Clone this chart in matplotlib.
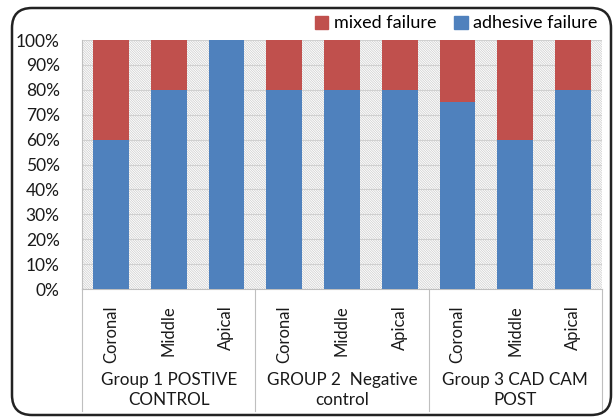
import matplotlib.pyplot as plt
import numpy as np
from matplotlib.patches import Patch, Rectangle, FancyBboxPatch
from matplotlib.lines import Line2D
import matplotlib.transforms as mtransforms

plt.rcParams['font.family'] = ['Lato', 'DejaVu Sans']
plt.rcParams['hatch.linewidth'] = 0.5
plt.rcParams['hatch.color'] = '#c8c8c8'

# data
positions_lbl = ['Coronal', 'Middle', 'Apical'] * 3
groups = ['Group 1 POSTIVE\nCONTROL', 'GROUP 2  Negative\ncontrol', 'Group 3 CAD CAM\nPOST']
adhesive = [60, 80, 100, 80, 80, 80, 75, 60, 80]
mixed = [40, 20, 0, 20, 20, 20, 25, 40, 20]

red = '#C0504D'
blue = '#4F81BD'

fig = plt.figure(figsize=(6.15, 4.17), dpi=100)
ax = fig.add_axes([82/615, (417-289)/417, 520/615, 249/417])

x = np.arange(len(adhesive))
ax.bar(x, adhesive, width=0.62, color=blue, zorder=3)
ax.bar(x, mixed, width=0.62, bottom=adhesive, color=red, zorder=3)

ax.set_xlim(-0.5, len(x) - 0.5)
ax.set_ylim(0, 100)

# hatched plot area
ax.add_patch(Rectangle((0, 0), 1, 1, transform=ax.transAxes, facecolor='white',
                       hatch='\\' * 14, edgecolor='#cccccc', linewidth=0, zorder=0))
ax.set_yticks(range(0, 101, 10))
ax.set_yticklabels([f'{v}%' for v in range(0, 101, 10)], fontsize=12.5, color='#1a1a1a')
ax.yaxis.grid(True, color='#d0d0d0', linewidth=0.8, zorder=1)

ax.set_xticks(x)
ax.set_xticklabels(positions_lbl, rotation=90, fontsize=12, va='top', color='#1a1a1a')
ax.tick_params(axis='both', length=0)
ax.tick_params(axis='x', pad=12)
ax.tick_params(axis='y', pad=16)

for s in ['top', 'right']:
    ax.spines[s].set_visible(False)
ax.spines['left'].set_color('#bfbfbf')
ax.spines['bottom'].set_color('#bfbfbf')

# group separators and labels
trans = mtransforms.blended_transform_factory(ax.transData, ax.transAxes)
for b in [-0.5, 2.5, 5.5, 8.5]:
    ax.add_line(Line2D([b, b], [0, -0.49], transform=trans, color='#bfbfbf',
                       linewidth=0.8, clip_on=False))
for i, g in enumerate(groups):
    ax.text(3 * i + 1, -0.335, g, transform=trans, ha='center', va='top',
            fontsize=12.3, linespacing=1.3, color='#1a1a1a')

# legend
handles = [Patch(color=red, label='mixed failure'), Patch(color=blue, label='adhesive failure')]
fig.legend(handles=handles, loc='upper right', bbox_to_anchor=(0.998, 1.002), ncol=2,
           frameon=False, fontsize=13, handlelength=0.75, handleheight=0.75,
           handletextpad=0.3, columnspacing=1.0)

# rounded border
fig.patches.append(FancyBboxPatch((0.12, 0.02), 5.99, 4.07,
                                  boxstyle='round,pad=0,rounding_size=0.2',
                                  transform=fig.dpi_scale_trans, facecolor='none',
                                  edgecolor='#222222', linewidth=1.8))

fig.savefig('out.png', dpi=100)
